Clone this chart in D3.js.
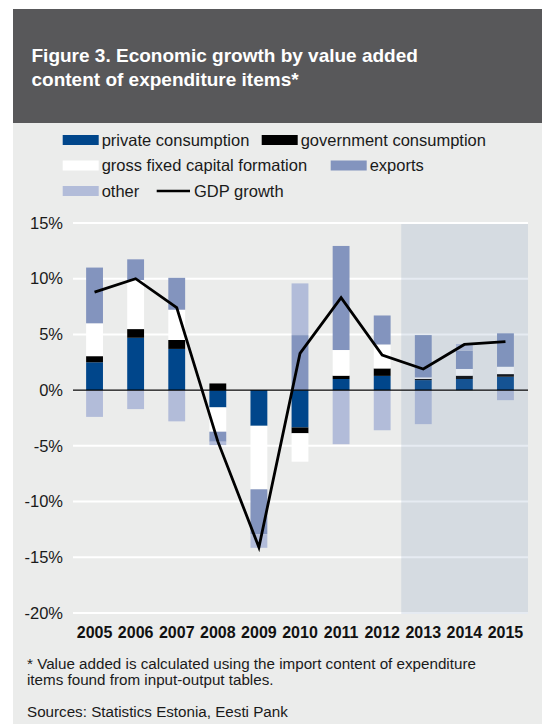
<!DOCTYPE html>
<html>
<head>
<meta charset="utf-8">
<script src="https://cdn.jsdelivr.net/npm/d3@7"></script>
<style>
  html, body { margin: 0; padding: 0; background: #ffffff; }
  svg { display: block; font-family: "Liberation Sans", Arial, Helvetica, sans-serif; }
</style>
</head>
<body>
<svg id="chart" width="542" height="724"></svg>
<script>
// Contributions to GDP growth, percentage points
const years = [2005, 2006, 2007, 2008, 2009, 2010, 2011, 2012, 2013, 2014, 2015];
const privateConsumption    = [2.5, 4.7, 3.7, -1.55, -3.2, -3.35, 1.0, 1.28, 0.9, 1.0, 1.2];
const governmentConsumption = [0.55, 0.78, 0.8, 0.6, 0.0, -0.52, 0.3, 0.67, 0.12, 0.3, 0.24];
const grossFixedCapital     = [2.95, 4.4, 2.72, -2.18, -5.7, -2.55, 2.3, 2.15, 0.12, 0.6, 0.66];
const exportsContribution   = [5.0, 1.86, 2.86, -0.9, -4.03, 4.94, 9.34, 2.6, 3.8, 1.64, 3.0];
const otherContribution     = [-2.4, -1.7, -2.8, -0.3, -1.22, 4.64, -4.85, -3.6, -3.05, 0.6, -0.9];
const gdpGrowth             = [8.8, 10.0, 7.4, -4.6, -14.1, 3.3, 8.3, 3.15, 1.9, 4.1, 4.35];

const seriesKeys   = ["private", "government", "gfcf", "exports", "other"];
const seriesLabels = ["private consumption", "government consumption",
                      "gross fixed capital formation", "exports", "other"];
const seriesColors = ["#00468b", "#000000", "#ffffff", "#8394be", "#b2bcd9"];
const yTicks = [-20, -15, -10, -5, 0, 5, 10, 15];
const forecastYears = [2013, 2014, 2015];

const titleLines = ["Figure 3. Economic growth by value added",
                    "content of expenditure items*"];
const noteLines = ["* Value added is calculated using the import content of expenditure",
                   "items found from input-output tables."];
const sourceLine = "Sources: Statistics Estonia, Eesti Pank";

const rows = years.map((year, i) => ({
  year,
  private: privateConsumption[i],
  government: governmentConsumption[i],
  gfcf: grossFixedCapital[i],
  exports: exportsContribution[i],
  other: otherContribution[i],
  gdp: gdpGrowth[i]
}));

const svg = d3.select("#chart");

// Panel and header
svg.append("rect").attr("x", 13).attr("y", 9).attr("width", 529).attr("height", 715)
  .attr("fill", "#ebeceb");
svg.append("rect").attr("x", 13).attr("y", 9).attr("width", 529).attr("height", 114)
  .attr("fill", "#58585a");
svg.append("g").selectAll("text").data(titleLines).join("text")
  .attr("x", 31.5).attr("y", (d, i) => 61.5 + i * 24)
  .attr("fill", "#ffffff").attr("font-weight", "bold").attr("font-size", 19)
  .text(d => d);

// Scales
const plot = { left: 73, right: 528, top: 223, bottom: 613 };
const x = d3.scaleBand().domain(years).range([74, 526])
  .paddingInner(0.59).paddingOuter(0.295);
const y = d3.scaleLinear().domain([-20, 15]).range([plot.bottom, plot.top]);

// Gridlines
svg.append("g").selectAll("line").data(yTicks).join("line")
  .attr("x1", plot.left).attr("x2", plot.right)
  .attr("y1", d => y(d)).attr("y2", d => y(d))
  .attr("stroke", "#ffffff").attr("stroke-width", 2);

// Y axis labels
const yAxis = d3.axisLeft(y).tickValues(yTicks).tickSize(0).tickPadding(0)
  .tickFormat(d => d + "%");
svg.append("g").attr("transform", `translate(63,0)`).call(yAxis)
  .call(g => g.select(".domain").remove())
  .call(g => g.selectAll("text").attr("font-size", 16.5).attr("fill", "#1a1a1a")
    .attr("font-family", "'Liberation Sans', Arial, sans-serif"));

// Stacked bars (positive and negative parts stacked separately)
const stacked = d3.stack().keys(seriesKeys).offset(d3.stackOffsetDiverging)(rows);
svg.append("g").selectAll("g").data(stacked).join("g")
  .attr("fill", (d, i) => seriesColors[i])
  .selectAll("rect").data(d => d).join("rect")
  .attr("x", d => x(d.data.year))
  .attr("width", x.bandwidth())
  .attr("y", d => y(Math.max(d[0], d[1])))
  .attr("height", d => Math.abs(y(d[0]) - y(d[1])));

// Forecast period shading
const fx0 = x(forecastYears[0]) - x.step() * x.paddingInner() / 2 - 1.5;
svg.append("rect")
  .attr("x", fx0).attr("y", plot.top + 1)
  .attr("width", plot.right - fx0).attr("height", plot.bottom - plot.top)
  .attr("fill", "rgb(116,144,183)").attr("fill-opacity", 0.18);

// Zero line
svg.append("line")
  .attr("x1", plot.left).attr("x2", plot.right)
  .attr("y1", y(0)).attr("y2", y(0))
  .attr("stroke", "#000000").attr("stroke-width", 1.2);

// GDP growth line
const line = d3.line()
  .x(d => x(d.year) + x.bandwidth() / 2)
  .y(d => y(d.gdp));
svg.append("path").datum(rows)
  .attr("d", line).attr("fill", "none")
  .attr("stroke", "#000000").attr("stroke-width", 2.8)
  .attr("stroke-linejoin", "miter");

// X axis labels
const xAxis = d3.axisBottom(x).tickSize(0).tickPadding(0);
svg.append("g").attr("transform", `translate(0,627)`).call(xAxis)
  .call(g => g.select(".domain").remove())
  .call(g => g.selectAll("text").attr("font-size", 16).attr("font-weight", "bold")
    .attr("fill", "#111111").attr("font-family", "'Liberation Sans', Arial, sans-serif"));

// Legend
const legendItems = [
  { label: seriesLabels[0], color: seriesColors[0], sx: 62.7, ty: 0 },
  { label: seriesLabels[1], color: seriesColors[1], sx: 261.7, ty: 0 },
  { label: seriesLabels[2], color: seriesColors[2], sx: 62.7, ty: 1 },
  { label: seriesLabels[3], color: seriesColors[3], sx: 330.7, ty: 1 },
  { label: seriesLabels[4], color: seriesColors[4], sx: 62.7, ty: 2 }
];
const rowY = [135, 160.5, 186];
const legend = svg.append("g");
legend.selectAll("rect").data(legendItems).join("rect")
  .attr("x", d => d.sx).attr("y", d => rowY[d.ty])
  .attr("width", 36).attr("height", 10).attr("fill", d => d.color);
legend.selectAll("text.item").data(legendItems).join("text").attr("class", "item")
  .attr("x", d => d.sx + 39).attr("y", d => rowY[d.ty] + 10.5)
  .attr("font-size", 16.5).attr("fill", "#1a1a1a").text(d => d.label);
legend.append("line")
  .attr("x1", 156.7).attr("x2", 190).attr("y1", rowY[2] + 5).attr("y2", rowY[2] + 5)
  .attr("stroke", "#000000").attr("stroke-width", 2.5);
legend.append("text").attr("x", 194).attr("y", rowY[2] + 10.5)
  .attr("font-size", 16.5).attr("fill", "#1a1a1a").text("GDP growth");

// Notes
svg.append("g").selectAll("text").data(noteLines).join("text")
  .attr("x", 27).attr("y", (d, i) => 669 + i * 16)
  .attr("font-size", 15.2).attr("fill", "#1a1a1a").text(d => d);
svg.append("text").attr("x", 27).attr("y", 717)
  .attr("font-size", 15.2).attr("fill", "#1a1a1a").text(sourceLine);
</script>
</body>
</html>
